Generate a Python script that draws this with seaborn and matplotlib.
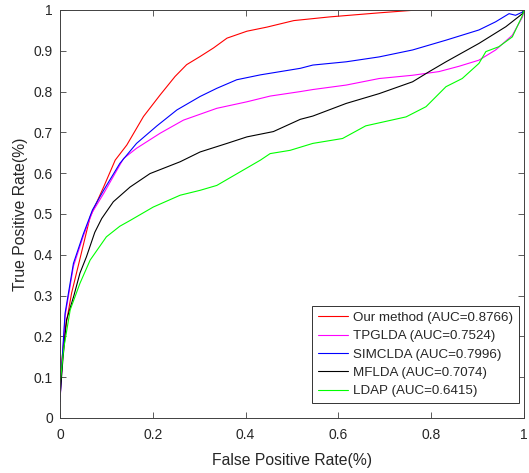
import matplotlib
matplotlib.use("Agg")
import matplotlib.pyplot as plt
import numpy as np
import pandas as pd
import seaborn as sns

# ROC points (FPR, TPR)
red_fpr = [0, 0.004, 0.011, 0.025, 0.043, 0.065, 0.094, 0.119, 0.144, 0.180, 0.216, 0.248,
           0.273, 0.302, 0.331, 0.360, 0.403, 0.446, 0.504, 0.581, 0.688, 0.77, 1.0]
red_tpr = [0.10, 0.14, 0.216, 0.306, 0.39, 0.493, 0.566, 0.632, 0.669, 0.739, 0.792, 0.837,
           0.866, 0.886, 0.907, 0.931, 0.948, 0.958, 0.974, 0.983, 0.993, 1.0, 1.0]

tpg_fpr = [0, 0.005, 0.011, 0.029, 0.05, 0.07, 0.094, 0.137, 0.165, 0.216, 0.266, 0.338,
           0.403, 0.453, 0.518, 0.545, 0.617, 0.688, 0.760, 0.817, 0.860, 0.903, 0.939,
           0.975, 0.997, 1.0]
tpg_tpr = [0.04, 0.14, 0.25, 0.372, 0.445, 0.505, 0.550, 0.636, 0.661, 0.698, 0.730, 0.759,
           0.775, 0.789, 0.800, 0.805, 0.816, 0.832, 0.840, 0.849, 0.862, 0.877, 0.902,
           0.938, 0.983, 1.0]

sim_fpr = [0, 0.005, 0.011, 0.029, 0.05, 0.07, 0.094, 0.129, 0.165, 0.209, 0.252, 0.302,
           0.338, 0.381, 0.432, 0.518, 0.545, 0.617, 0.688, 0.760, 0.832, 0.903, 0.939,
           0.968, 0.982, 0.997, 1.0]
sim_tpr = [0.04, 0.15, 0.257, 0.379, 0.45, 0.51, 0.558, 0.624, 0.673, 0.716, 0.755, 0.788,
           0.808, 0.829, 0.841, 0.857, 0.865, 0.873, 0.885, 0.902, 0.926, 0.951, 0.971,
           0.991, 0.987, 0.995, 1.0]

mfl_fpr = [0, 0.006, 0.014, 0.03, 0.043, 0.057, 0.075, 0.090, 0.115, 0.151, 0.194, 0.259,
           0.302, 0.360, 0.403, 0.460, 0.518, 0.545, 0.617, 0.688, 0.760, 0.796, 0.832,
           0.903, 0.961, 0.997, 1.0]
mfl_tpr = [0.05, 0.14, 0.24, 0.30, 0.355, 0.395, 0.455, 0.489, 0.530, 0.566, 0.599, 0.628,
           0.652, 0.673, 0.689, 0.702, 0.732, 0.740, 0.771, 0.795, 0.824, 0.849, 0.873,
           0.918, 0.959, 0.991, 1.0]

ldap_fpr = [0, 0.008, 0.022, 0.043, 0.065, 0.100, 0.129, 0.151, 0.201, 0.259, 0.302, 0.338,
            0.388, 0.432, 0.453, 0.496, 0.545, 0.609, 0.659, 0.746, 0.789, 0.832, 0.867,
            0.903, 0.918, 0.946, 0.975, 0.997, 1.0]
ldap_tpr = [0.08, 0.17, 0.265, 0.330, 0.387, 0.444, 0.47, 0.484, 0.517, 0.546, 0.558, 0.570,
            0.603, 0.632, 0.648, 0.656, 0.673, 0.685, 0.716, 0.738, 0.763, 0.812, 0.832,
            0.869, 0.898, 0.910, 0.934, 0.987, 1.0]

labels = ["Our method (AUC=0.8766)", "TPGLDA (AUC=0.7524)", "SIMCLDA (AUC=0.7996)",
          "MFLDA (AUC=0.7074)", "LDAP (AUC=0.6415)"]
colors = ["#ff0000", "#ff00ff", "#0000ff", "#000000", "#00ff00"]

x_ticks = [0, 0.2, 0.4, 0.6, 0.8, 1]
x_ticklabels = ["0", "0.2", "0.4", "0.6", "0.8", "1"]
y_ticks = [0, 0.1, 0.2, 0.3, 0.4, 0.5, 0.6, 0.7, 0.8, 0.9, 1]
y_ticklabels = ["0", "0.1", "0.2", "0.3", "0.4", "0.5", "0.6", "0.7", "0.8", "0.9", "1"]

curves = [(red_fpr, red_tpr), (tpg_fpr, tpg_tpr), (sim_fpr, sim_tpr),
          (mfl_fpr, mfl_tpr), (ldap_fpr, ldap_tpr)]
frames = []
for lab, (fx, ty) in zip(labels, curves):
    frames.append(pd.DataFrame({"fpr": fx, "tpr": ty, "method": lab}))
df = pd.concat(frames, ignore_index=True)

sns.set_style("ticks")
plt.rcParams["font.family"] = ["Liberation Sans", "DejaVu Sans"]

fig = plt.figure(figsize=(5.29, 4.73), dpi=100)
ax = fig.add_axes([0.1134, 0.1163, 0.877, 0.8626])

sns.lineplot(data=df, x="fpr", y="tpr", hue="method", hue_order=labels,
             palette=dict(zip(labels, colors)), estimator=None, sort=False,
             units="method", linewidth=0.8, ax=ax)

ax.set_xlim(0, 1)
ax.set_ylim(0, 1)
ax.set_xticks(x_ticks)
ax.set_xticklabels(x_ticklabels)
ax.set_yticks(y_ticks)
ax.set_yticklabels(y_ticklabels)
ax.tick_params(direction="in", top=True, right=True, length=4, width=0.6,
               colors="#404040", labelsize=10, labelcolor="#262626")
ax.tick_params(axis="x", pad=7)
ax.tick_params(axis="y", pad=5)
for sp in ax.spines.values():
    sp.set_visible(True)
    sp.set_color("#404040")
    sp.set_linewidth(0.7)

ax.set_xlabel("False Positive Rate(%)", fontsize=11.3, color="#262626", labelpad=8)
ax.set_ylabel("True Positive Rate(%)", fontsize=11.3, color="#262626", labelpad=4)

leg = ax.legend(loc="lower right", bbox_to_anchor=(0.99, 0.036), borderaxespad=0,
                fontsize=9.6, frameon=True, fancybox=False,
                handlelength=2.3, labelspacing=0.45, handletextpad=0.35, borderpad=0.45)
leg.get_frame().set_edgecolor("#333333")
leg.get_frame().set_linewidth(0.7)
leg.get_frame().set_alpha(1)

fig.savefig("out.png", dpi=100)
